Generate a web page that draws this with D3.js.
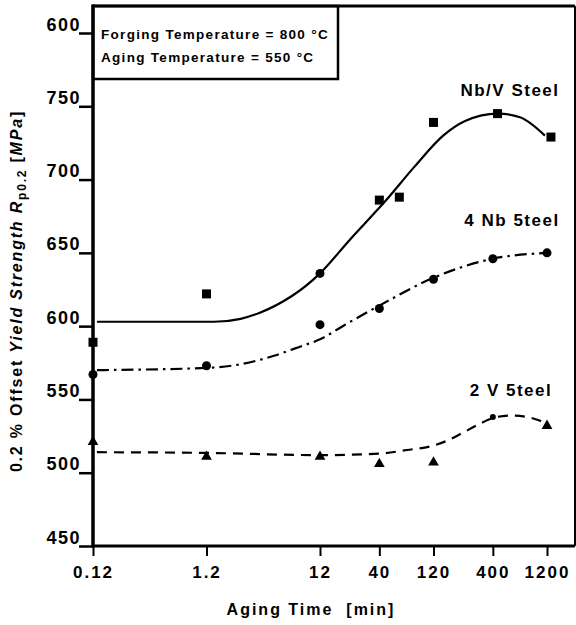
<!DOCTYPE html>
<html lang="en">
<head>
  <meta charset="UTF-8">
  <title>Yield strength vs aging time</title>
  <style>
    body { margin: 0; background: #fff; }
    text { font-family: "Liberation Sans", Arial, sans-serif; font-weight: bold; fill: #000; }
  </style>
</head>
<body>
<div id="chart"></div>

<script src="https://cdn.jsdelivr.net/npm/d3@7/dist/d3.min.js"></script>
<script>
  // tick values and labels (as printed)
  const X_TICKS = [0.12, 1.2, 12, 40, 120, 400, 1200];
  const X_LABELS = ['0.12', '1.2', '12', '40', '120', '400', '1200'];
  const Y_TICKS = [450, 500, 550, 600, 650, 700, 750, 800];
  const Y_LABELS = ['450', '500', '550', '600', '650', '700', '750', '600'];

  // measured points (aging time in min, yield strength in MPa)
  const NBV_X = [0.12, 1.2, 12, 40, 60, 120, 440, 1300];
  const NBV_Y = [589, 622, 636, 686, 688, 739, 745, 729];
  const NBV_SHAPE = ['sq', 'sq', 'dot', 'sq', 'sq', 'sq', 'sq', 'sq'];

  const NB4_X = [0.12, 1.2, 12, 40, 120, 400, 1200];
  const NB4_Y = [567, 573, 601, 612, 632, 646, 650];

  const V2_X = [0.12, 1.2, 12, 40, 120, 400, 1200];
  const V2_Y = [521, 511, 511, 506, 507, 538, 532];
  const V2_SHAPE = ['tri', 'tri', 'tri', 'tri', 'tri', 'small', 'tri'];

  // fitted curves
  const NBV_FIT_X = [0.13, 1.4, 2.4, 3.5, 12, 22, 46, 82, 146, 228, 444, 694, 1150];
  const NBV_FIT_Y = [603, 603, 605, 609, 636, 659, 686, 709, 730, 740, 745, 742.5, 730];
  const NB4_FIT_X = [0.13, 1.2, 2.4, 4.8, 8, 12, 20, 40, 120, 400, 1200];
  const NB4_FIT_Y = [570, 571.5, 574, 580, 586, 591, 601, 614, 633, 646, 650];
  const V2_FIT_X = [0.13, 1.2, 12, 40, 70, 120, 160, 220, 300, 430, 600, 1000, 1200];
  const V2_FIT_Y = [514, 513.5, 512, 513, 515.5, 518.5, 522, 527.5, 533, 538, 539, 536, 532.5];

  const W = 576, H = 625;
  const m = {left: 93, right: 575, top: 6, bottom: 546};

  const svg = d3.select('#chart').append('svg')
    .attr('width', W).attr('height', H);

  const x = d3.scaleLog().domain([0.12, 1200]).range([m.left, 547]);
  const y = d3.scaleLinear().domain([450, 800]).range([m.bottom, 33]);

  const zip = (xs, ys) => xs.map((v, i) => [v, ys[i]]);

  // frame
  svg.append('line').attr('x1', m.left).attr('x2', m.right).attr('y1', m.top).attr('y2', m.top)
    .attr('stroke', '#000').attr('stroke-width', 3);
  svg.append('line').attr('x1', m.right).attr('x2', m.right).attr('y1', m.top).attr('y2', m.bottom)
    .attr('stroke', '#000').attr('stroke-width', 2);

  // Y axis
  const yAxis = svg.append('g')
    .attr('transform', 'translate(' + m.left + ',0)')
    .call(d3.axisLeft(y).tickValues(Y_TICKS)
      .tickFormat((d, i) => Y_LABELS[i]).tickSize(14).tickPadding(0));
  yAxis.select('.domain').remove();
  yAxis.selectAll('line').attr('stroke-width', 2.5);
  yAxis.selectAll('text')
    .attr('x', -12).attr('dy', -3)
    .style('font-size', '18px').style('letter-spacing', '1.5px');

  // X axis
  const xAxis = svg.append('g')
    .attr('transform', 'translate(0,' + m.bottom + ')')
    .call(d3.axisBottom(x).tickValues(X_TICKS)
      .tickFormat((d, i) => X_LABELS[i]).tickSize(10).tickPadding(0));
  xAxis.select('.domain').remove();
  xAxis.selectAll('line').attr('stroke-width', 2);
  xAxis.selectAll('text')
    .attr('y', 32).attr('dy', 0)
    .style('font-size', '17px').style('letter-spacing', '2px');

  svg.append('line').attr('x1', m.left).attr('x2', m.left).attr('y1', m.top - 1.5).attr('y2', m.bottom + 1.5)
    .attr('stroke', '#000').attr('stroke-width', 3.5);
  svg.append('line').attr('x1', m.left).attr('x2', m.right).attr('y1', m.bottom).attr('y2', m.bottom)
    .attr('stroke', '#000').attr('stroke-width', 3);

  // info box
  svg.append('rect').attr('x', m.left).attr('y', m.top).attr('width', 245).attr('height', 73)
    .attr('fill', 'none').attr('stroke', '#000').attr('stroke-width', 2.5);
  svg.append('text').attr('x', 101).attr('y', 39)
    .style('font-size', '13.5px').style('letter-spacing', '1.3px')
    .text('Forging Temperature = 800 °C');
  svg.append('text').attr('x', 101).attr('y', 62)
    .style('font-size', '13.5px').style('letter-spacing', '1.3px')
    .text('Aging Temperature = 550 °C');

  // curves
  const line = d3.line()
    .x(d => x(d[0])).y(d => y(d[1]))
    .curve(d3.curveMonotoneX);

  svg.append('path').datum(zip(NBV_FIT_X, NBV_FIT_Y))
    .attr('d', line).attr('fill', 'none').attr('stroke', '#000').attr('stroke-width', 2.2);
  svg.append('path').datum(zip(NB4_FIT_X, NB4_FIT_Y))
    .attr('d', line).attr('fill', 'none').attr('stroke', '#000').attr('stroke-width', 2.2)
    .attr('stroke-dasharray', '12,5,2.5,5');
  svg.append('path').datum(zip(V2_FIT_X, V2_FIT_Y))
    .attr('d', line).attr('fill', 'none').attr('stroke', '#000').attr('stroke-width', 2.2)
    .attr('stroke-dasharray', '10,7');

  // markers
  function drawMarkers(xs, ys, shapes, def) {
    xs.forEach(function (v, i) {
      const s = shapes ? shapes[i] : def;
      const px = x(v), py = y(ys[i]);
      if (s === 'sq') {
        svg.append('rect').attr('x', px - 4.5).attr('y', py - 4.5).attr('width', 9).attr('height', 9);
      } else if (s === 'dot') {
        svg.append('circle').attr('cx', px).attr('cy', py).attr('r', 4.5);
      } else if (s === 'small') {
        svg.append('circle').attr('cx', px).attr('cy', py).attr('r', 3);
      } else {
        svg.append('path')
          .attr('transform', 'translate(' + px + ',' + py + ')')
          .attr('d', d3.symbol(d3.symbolTriangle).size(50)());
      }
    });
  }
  drawMarkers(NBV_X, NBV_Y, NBV_SHAPE);
  drawMarkers(NB4_X, NB4_Y, null, 'dot');
  drawMarkers(V2_X, V2_Y, V2_SHAPE);

  // series labels
  const labels = [
    {text: 'Nb/V Steel', x: 510, y: 96},
    {text: '4 Nb 5teel', x: 512, y: 226},
    {text: '2 V 5teel', x: 511, y: 396}
  ];
  svg.selectAll('.lbl').data(labels).enter().append('text')
    .attr('x', d => d.x).attr('y', d => d.y)
    .attr('text-anchor', 'middle')
    .style('font-size', '17px').style('letter-spacing', '1.5px')
    .text(d => d.text);

  // axis titles
  svg.append('text').attr('x', 311).attr('y', 615)
    .attr('text-anchor', 'middle')
    .style('font-size', '16px').style('letter-spacing', '2px')
    .text('Aging Time\u00a0\u00a0[min]');

  const yt = svg.append('text')
    .attr('transform', 'translate(22,291) rotate(-90)')
    .attr('text-anchor', 'middle')
    .style('font-size', '16px').style('letter-spacing', '1.8px');
  yt.append('tspan').text('0.2 % Offset ');
  yt.append('tspan').style('font-style', 'italic').text('Yield Strength R');
  yt.append('tspan').style('font-size', '12px').attr('dy', 4).text('p0.2');
  yt.append('tspan').attr('dy', -4).text(' [');
  yt.append('tspan').style('font-style', 'italic').text('MPa');
  yt.append('tspan').text(']');
</script>
</body>
</html>
